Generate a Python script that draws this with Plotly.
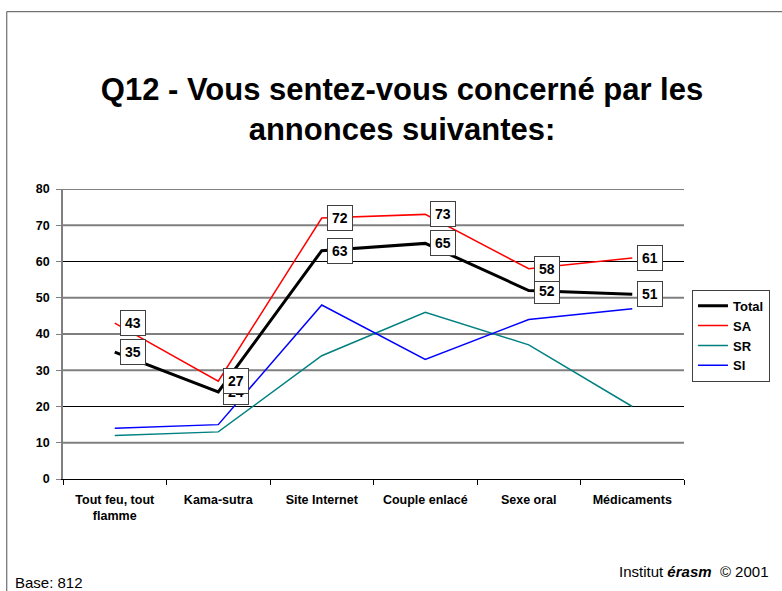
import plotly.graph_objects as go

# Survey categories (ads shown) and share of respondents feeling concerned, in %
categories = ["Tout feu, tout<br>flamme", "Kama-sutra", "Site Internet",
              "Couple enlacé", "Sexe oral", "Médicaments"]
total = [35, 24, 63, 65, 52, 51]
sa = [43, 27, 72, 73, 58, 61]
sr = [12, 13, 34, 46, 37, 20]
si = [14, 15, 48, 33, 44, 47]

y_ticks = [0, 10, 20, 30, 40, 50, 60, 70, 80]
dark_grid = [20, 40, 60, 80]
light_grid = [10, 30, 50, 70]

FONT = "Arial, Liberation Sans, Helvetica, sans-serif"

fig = go.Figure()
series = [
    ("Total", total, "#000000", 3),
    ("SA", sa, "#ff0000", 1.5),
    ("SR", sr, "#008080", 1.5),
    ("SI", si, "#0000ff", 1.5),
]
for name, vals, color, w in series:
    fig.add_trace(go.Scatter(x=categories, y=vals, name=name, mode="lines",
                             line=dict(color=color, width=w)))

# Boxed value labels: Total first, SA drawn over it
annotations = []
for vals in (total, sa):
    for cat, v in zip(categories, vals):
        annotations.append(dict(
            x=cat, y=v, xref="x", yref="y", text=str(v), showarrow=False,
            xanchor="left", yanchor="middle", xshift=5,
            bgcolor="white", bordercolor="#404040", borderwidth=1, borderpad=4,
            font=dict(family=FONT, size=14, color="black", weight="bold"),
        ))

def px_x(px):
    return (px - 63) / 624.0

def px_y(py):
    return (479.3 - py) / 290.0

annotations.append(dict(
    x=px_x(12.5), y=px_y(583), xref="paper", yref="paper", text="Base: 812",
    showarrow=False, xanchor="left", yanchor="middle",
    font=dict(family=FONT, size=15, color="black"),
))
annotations.append(dict(
    x=px_x(774), y=px_y(572), xref="paper", yref="paper",
    text="Institut <b><i>érasm</i></b>&nbsp;&nbsp;© 2001",
    showarrow=False, xanchor="right", yanchor="middle",
    font=dict(family=FONT, size=15, color="black"),
))

shapes = []
for g in light_grid:
    shapes.append(dict(type="line", xref="paper", yref="y", x0=0, x1=1, y0=g, y1=g,
                       line=dict(color="#808080", width=2), layer="below"))
for g in dark_grid:
    shapes.append(dict(type="line", xref="paper", yref="y", x0=0, x1=1, y0=g, y1=g,
                       line=dict(color="#000000", width=1), layer="below"))
# outer frame
shapes.append(dict(type="rect", xref="paper", yref="paper",
                   x0=px_x(6.5), x1=px_x(800), y0=px_y(600), y1=px_y(12),
                   line=dict(color="#505050", width=1), fillcolor="rgba(0,0,0,0)",
                   layer="below"))

fig.update_layout(
    width=782, height=591,
    margin=dict(l=63, r=95, t=189, b=112),
    paper_bgcolor="white", plot_bgcolor="white",
    title=dict(text="Q12 - Vous sentez-vous concerné par les<br>annonces suivantes:",
               x=402 / 782, xref="container", xanchor="center",
               y=1 - 100 / 591, yref="container", yanchor="top",
               font=dict(family=FONT, size=31, color="black", weight="bold")),
    xaxis=dict(type="category", range=[-0.5, 5.5], showgrid=False, ticks="outside",
               tickson="boundaries",
               ticklen=5, tickcolor="black", showline=True, linecolor="black", linewidth=1,
               tickfont=dict(family=FONT, size=12.5, color="black", weight="bold"),
               ticklabelstandoff=9, fixedrange=True),
    yaxis=dict(range=[0, 80], tickvals=y_ticks, showgrid=False, zeroline=False,
               ticks="outside", ticklen=5, tickcolor="#808080",
               showline=True, linecolor="#808080", linewidth=1.5,
               tickfont=dict(family=FONT, size=12.5, color="black", weight="bold"),
               ticklabelstandoff=4, fixedrange=True),
    legend=dict(x=px_x(695), y=px_y(290), xanchor="left", yanchor="top",
                bordercolor="#404040", borderwidth=1, bgcolor="white",
                itemwidth=30, tracegroupgap=0,
                font=dict(family=FONT, size=13, color="black", weight="bold")),
    annotations=annotations,
    shapes=shapes,
    showlegend=True,
)

fig.write_html("out.html")
